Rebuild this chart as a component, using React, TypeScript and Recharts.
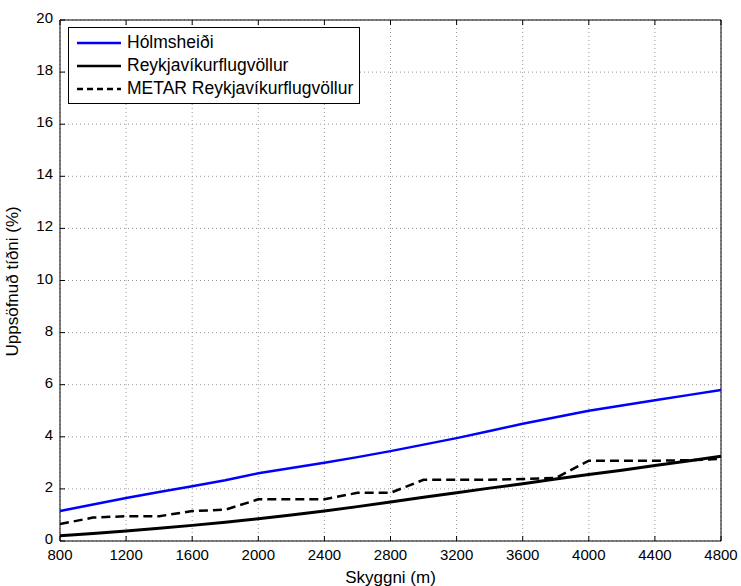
import React from 'react';
import {
  LineChart,
  Line,
  XAxis,
  YAxis,
  CartesianGrid,
  ReferenceArea,
} from 'recharts';

// visibility thresholds (m)
const skyggni = [800, 1000, 1200, 1400, 1600, 1800, 2000, 2200, 2400, 2600, 2800, 3000, 3200, 3400, 3600, 3800, 4000, 4200, 4400, 4600, 4800];

// cumulative frequency (%)
const holmsheidi = [1.15, 1.4, 1.65, 1.88, 2.1, 2.33, 2.6, 2.8, 3.0, 3.22, 3.45, 3.7, 3.95, 4.22, 4.5, 4.75, 5.0, 5.2, 5.4, 5.6, 5.8];
const reykjavik = [0.2, 0.29, 0.38, 0.49, 0.6, 0.72, 0.85, 1.0, 1.15, 1.32, 1.5, 1.68, 1.85, 2.03, 2.2, 2.38, 2.55, 2.72, 2.9, 3.07, 3.25];
const metar = [0.65, 0.9, 0.95, 0.95, 1.15, 1.2, 1.6, 1.6, 1.6, 1.85, 1.85, 2.35, 2.35, 2.35, 2.38, 2.42, 3.08, 3.08, 3.08, 3.1, 3.15];

const xTicks = [800, 1200, 1600, 2000, 2400, 2800, 3200, 3600, 4000, 4400, 4800];
const yTicks = [0, 2, 4, 6, 8, 10, 12, 14, 16, 18, 20];

const rows = skyggni.map((s, i) => ({
  s,
  holm: holmsheidi[i],
  rvk: reykjavik[i],
  metar: metar[i],
}));

const FONT = 'Liberation Sans, Arial, sans-serif';
const TICK = 5;

const BottomTick = (props: any) => {
  const { x, y, payload } = props;
  const axisY = y - 6;
  return (
    <g>
      <line x1={x} x2={x} y1={axisY} y2={axisY - TICK} stroke="#000" strokeWidth={1} />
      <text x={x} y={axisY + 19} textAnchor="middle" fontFamily={FONT} fontSize={15} fill="#000">
        {payload.value}
      </text>
    </g>
  );
};

const TopTick = (props: any) => {
  const { x, y } = props;
  const axisY = y + 6;
  return <line x1={x} x2={x} y1={axisY} y2={axisY + TICK} stroke="#000" strokeWidth={1} />;
};

const LeftTick = (props: any) => {
  const { x, y, payload } = props;
  const axisX = x + 6;
  return (
    <g>
      <line x1={axisX} x2={axisX + TICK} y1={y} y2={y} stroke="#000" strokeWidth={1} />
      <text x={axisX - 7} y={y + 3} textAnchor="end" fontFamily={FONT} fontSize={15} fill="#000">
        {payload.value}
      </text>
    </g>
  );
};

const RightTick = (props: any) => {
  const { x, y } = props;
  const axisX = x - 6;
  return <line x1={axisX} x2={axisX - TICK} y1={y} y2={y} stroke="#000" strokeWidth={1} />;
};

const legendItems = [
  { label: 'Hólmsheiði', color: '#0000ff', dash: undefined },
  { label: 'Reykjavíkurflugvöllur', color: '#000', dash: undefined },
  { label: 'METAR Reykjavíkurflugvöllur', color: '#000', dash: '6 4' },
];

const LegendBox = () => (
  <div
    style={{
      position: 'absolute',
      left: 68,
      top: 27,
      width: 290,
      height: 72,
      boxSizing: 'content-box',
      border: '1px solid #000',
      background: '#fff',
      fontFamily: FONT,
      fontSize: 17.5,
      lineHeight: '23px',
      paddingTop: 3,
    }}
  >
    {legendItems.map((it) => (
      <div key={it.label} style={{ display: 'flex', alignItems: 'center', whiteSpace: 'nowrap' }}>
        <svg width={52} height={10} style={{ marginLeft: 6, marginRight: 0 }}>
          <line x1={2} x2={46} y1={5} y2={5} stroke={it.color} strokeWidth={2.5} strokeDasharray={it.dash} />
        </svg>
        <span>{it.label}</span>
      </div>
    ))}
  </div>
);

export default function App() {
  return (
    <div style={{ position: 'absolute', left: 0, top: 0, width: 741, height: 586, background: '#fff' }}>
      <LineChart width={741} height={586} data={rows} margin={{ top: 14, right: 14, bottom: 0, left: 0 }}>
        <CartesianGrid
          stroke="#999"
          strokeDasharray="1 3"
          verticalValues={xTicks}
          horizontalValues={yTicks}
        />
        <XAxis
          dataKey="s"
          type="number"
          domain={[800, 4800]}
          ticks={xTicks}
          interval={0}
          tickLine={false}
          axisLine={false}
          tickSize={0}
          tickMargin={6}
          height={45}
          tick={<BottomTick />}
          label={{ value: 'Skyggni (m)', position: 'insideBottom', offset: 3, fontFamily: FONT, fontSize: 17, fill: '#000' }}
        />
        <XAxis
          xAxisId="top"
          orientation="top"
          dataKey="s"
          type="number"
          domain={[800, 4800]}
          ticks={xTicks}
          interval={0}
          tickLine={false}
          axisLine={false}
          tickSize={0}
          tickMargin={6}
          height={6}
          tick={<TopTick />}
        />
        <YAxis
          type="number"
          domain={[0, 20]}
          ticks={yTicks}
          interval={0}
          tickLine={false}
          axisLine={false}
          tickSize={0}
          tickMargin={6}
          width={60}
          tick={<LeftTick />}
          label={{ value: 'Uppsöfnuð tíðni (%)', angle: -90, position: 'insideLeft', offset: 12, dy: 76, fontFamily: FONT, fontSize: 17, fill: '#000' }}
        />
        <YAxis
          yAxisId="right"
          orientation="right"
          type="number"
          domain={[0, 20]}
          ticks={yTicks}
          interval={0}
          tickLine={false}
          axisLine={false}
          tickSize={0}
          tickMargin={6}
          width={6}
          tick={<RightTick />}
        />
        <ReferenceArea x1={800} x2={4800} y1={0} y2={20} fill="none" stroke="#000" strokeWidth={1} ifOverflow="visible" />
        <Line type="linear" dataKey="holm" stroke="#0000ff" strokeWidth={2.5} dot={false} isAnimationActive={false} />
        <Line type="linear" dataKey="rvk" stroke="#000" strokeWidth={3} dot={false} isAnimationActive={false} />
        <Line type="linear" dataKey="metar" stroke="#000" strokeWidth={2.5} strokeDasharray="9 5" dot={false} isAnimationActive={false} />
      </LineChart>
      <LegendBox />
    </div>
  );
}
